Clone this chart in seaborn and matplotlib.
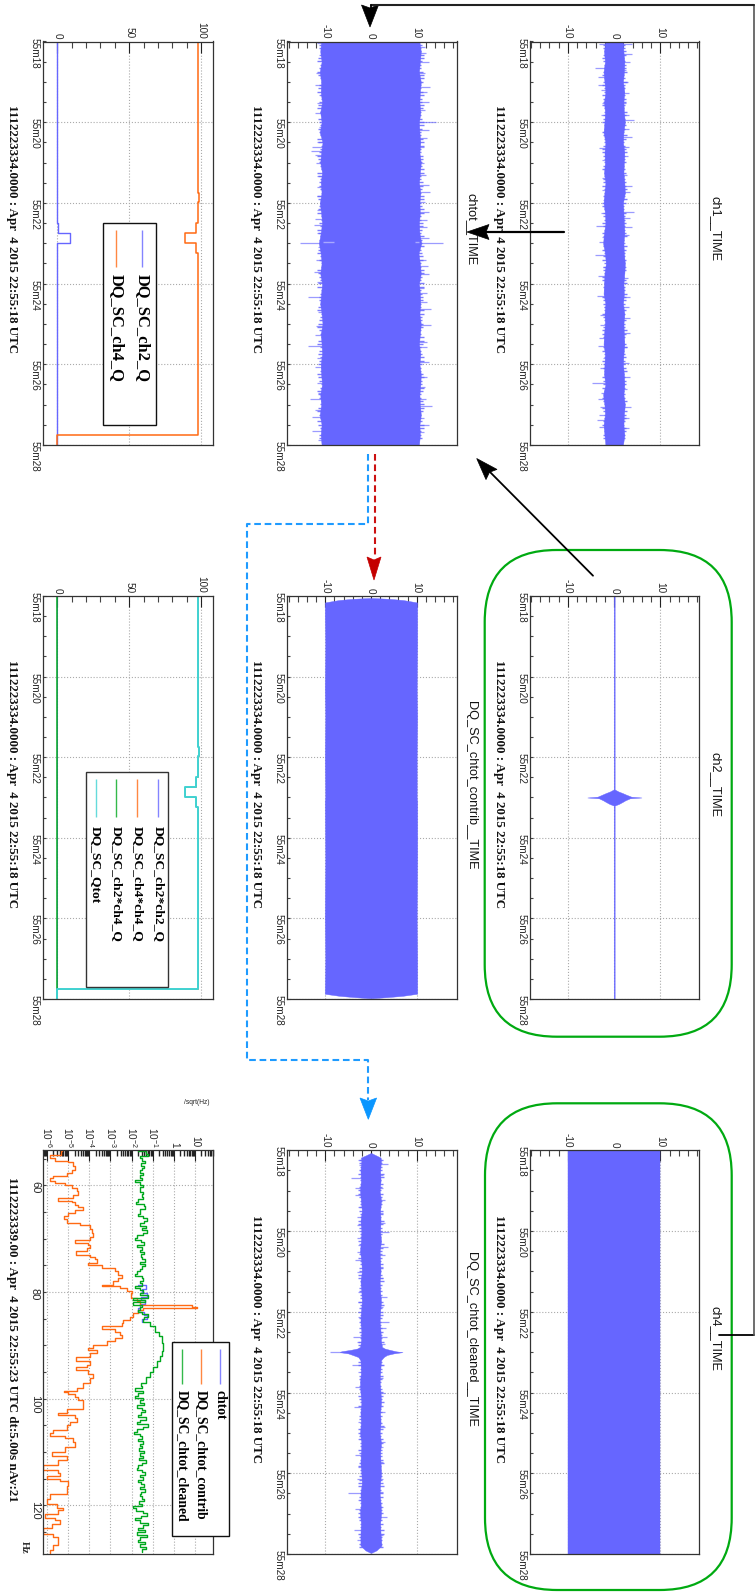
import numpy as np
import pandas as pd
import matplotlib
matplotlib.use("Agg")
import matplotlib.pyplot as plt
from matplotlib.patches import FancyBboxPatch, Rectangle, Polygon
from matplotlib.ticker import MultipleLocator, LogLocator, NullFormatter
import seaborn as sns

# ---------- data ----------
time_ticks = [18, 20, 22, 24, 26, 28]
time_labels = ["55m18", "55m20", "55m22", "55m24", "55m26", "55m28"]
amp_ticks = [-10, 0, 10]
q_ticks = [0, 50, 100]
core_t = [18 + 0.25 * i for i in range(41)]

ch1_lo = [-1.9,-2.2,-2.0,-2.3,-2.1,-1.9,-2.2,-2.0,-2.1,-2.3,-1.9,-2.1,-2.0,-2.2,-1.9,-2.1,-2.3,-2.0,-1.9,-2.2,-2.4,
          -2.0,-1.8,-2.1,-2.2,-2.3,-1.9,-2.1,-2.0,-2.2,-2.3,-2.0,-2.1,-2.2,-1.9,-2.4,-2.1,-2.0,-2.3,-2.1,-1.9]
ch1_hi = [1.9,2.0,2.2,2.1,1.9,2.2,2.0,2.1,2.3,2.0,1.9,2.2,2.1,2.0,2.2,2.3,1.9,2.0,2.1,2.2,2.0,
          2.1,2.3,2.2,2.0,2.1,1.9,2.2,2.0,2.1,2.2,2.0,1.9,2.1,2.2,2.0,2.3,2.1,2.0,2.2,1.9]
ch1_fringe_lo = [-2.4,-2.2,-2.6,-2.3,-2.5,-2.2,-2.7,-2.3,-2.4,-2.6,-2.2,-2.5,-2.3,-2.7,-2.2,-2.4,-2.6,-2.3,-2.5,-2.2,-2.4,-2.7,-2.3,-2.2,-2.6,-2.4,-2.3,-2.5,-2.7,-2.2,-2.4,-2.3,-2.6,-2.5,-2.2,-2.7,-2.4,-2.3,-2.5,-2.2,-2.6,-2.3,-2.4,-2.7,-2.2,-2.5,-2.3,-2.6,-2.4,-2.2,-2.5,-2.7,-2.3,-2.4,-2.6,-2.2,-2.5,-2.3,-2.4,-2.6]
ch1_fringe_hi = [2.3,2.6,2.2,2.5,2.7,2.3,2.4,2.2,2.6,2.4,2.8,2.3,2.5,2.2,2.6,2.3,2.7,2.4,2.2,2.5,2.3,2.6,2.4,2.7,2.2,2.5,2.3,2.4,2.6,2.2,2.7,2.3,2.5,2.4,2.2,2.6,2.3,2.7,2.5,2.2,2.4,2.6,2.3,2.5,2.2,2.7,2.4,2.3,2.6,2.2,2.5,2.4,2.3,2.7,2.2,2.5,2.3,2.6,2.4,2.2]
ch1_spk_lo_t = [18.06,18.33,18.65,18.89,19.08,19.20,19.53,19.82,20.24,20.65,20.94,21.39,21.68,21.93,22.26,22.57,22.84,22.98,23.28,23.58,23.81,24.31,24.57,24.78,25.03,25.36,25.55,25.85,26.10,26.47,26.72,26.86,27.05,27.26,27.38,27.55,27.75]
ch1_spk_lo_v = [-3.2,-2.5,-4.1,-3.6,-3.4,-2.9,-2.7,-2.9,-2.5,-3.2,-2.7,-2.7,-2.7,-2.5,-2.9,-3.9,-2.7,-3.2,-4.1,-2.5,-3.4,-3.8,-2.3,-3.0,-3.0,-3.2,-3.4,-2.5,-3.0,-4.7,-2.9,-3.4,-3.0,-3.2,-3.8,-3.2,-2.3]
ch1_spk_hi_t = [18.06,18.31,18.50,18.71,19.00,19.28,19.53,19.82,19.94,20.18,20.37,20.62,20.85,21.31,21.57,21.72,22.22,22.38,22.59,22.80,23.00,23.58,23.87,24.32,24.57,24.86,25.23,25.56,25.98,26.31,26.60,27.05,27.34,27.59]
ch1_spk_hi_v = [3.8,3.8,3.5,2.6,2.9,3.1,2.6,3.1,4.2,3.1,3.8,3.3,2.9,2.7,3.8,3.5,4.2,3.5,3.8,3.1,2.4,2.6,2.9,3.5,3.1,3.5,3.5,2.7,3.3,3.5,2.7,3.6,3.3,3.1]

chtot_lo = [-10.9,-11.1,-10.8,-11.2,-10.9,-11.0,-10.7,-11.1,-10.8,-11.2,-10.6,-10.9,-11.1,-10.7,-11.0,-10.8,-11.2,-10.9,-10.7,-11.0,-11.4,
            -11.0,-10.8,-11.1,-10.7,-10.9,-11.1,-10.8,-10.6,-11.0,-10.8,-10.7,-11.0,-10.9,-10.7,-11.1,-10.9,-11.2,-10.8,-11.0,-10.8]
chtot_hi = [10.6,10.9,10.7,10.5,10.9,10.7,10.6,10.8,10.5,10.6,10.8,10.6,10.9,10.7,10.5,10.8,10.6,10.7,10.5,10.6,11.0,
            10.4,10.7,10.9,10.5,10.7,10.8,10.6,10.9,10.7,10.5,10.8,10.6,10.9,10.8,10.6,10.7,10.9,10.6,10.7,10.5]
chtot_fringe_lo = [-11.4,-11.0,-11.6,-11.2,-11.7,-11.1,-11.3,-11.8,-11.0,-11.5,-11.2,-11.6,-11.1,-11.4,-11.8,-11.0,-11.3,-11.6,-11.2,-11.7,-11.1,-11.4,-11.0,-11.5,-11.3,-11.7,-11.0,-11.2,-11.6,-11.4,-11.1,-11.8,-11.3,-11.0,-11.5,-11.2,-11.7,-11.1,-11.4,-11.6,-11.0,-11.3,-11.8,-11.2,-11.5,-11.1,-11.6,-11.3,-11.0,-11.7,-11.4,-11.2,-11.5,-11.0,-11.6,-11.3,-11.8,-11.1,-11.4,-11.2]
chtot_fringe_hi = [11.2,10.9,11.5,11.0,11.4,11.7,10.9,11.3,11.1,11.6,10.9,11.2,11.5,11.0,11.3,11.7,10.9,11.4,11.1,11.6,11.0,11.3,10.9,11.5,11.2,11.7,11.0,11.4,10.9,11.2,11.6,11.1,11.3,10.9,11.5,11.0,11.7,11.2,11.4,10.9,11.6,11.1,11.3,11.0,11.5,10.9,11.2,11.6,11.0,11.4,11.1,11.7,10.9,11.3,11.5,11.0,11.2,11.6,11.0,11.3]
chtot_spk_lo_t = [18.03,18.33,18.79,19.08,19.33,19.53,19.76,20.11,20.48,20.62,20.71,20.81,21.02,21.33,21.60,21.84,22.18,22.41,22.55,22.75,22.99,23.09,23.42,23.71,23.95,24.32,24.70,25.05,25.28,25.55,25.85,26.06,26.47,26.70,26.85,27.13,27.30,27.65,27.88]
chtot_spk_lo_v = [-11.9,-11.3,-12.0,-12.3,-11.3,-11.8,-12.3,-11.3,-11.9,-12.8,-13.1,-12.3,-12.0,-11.8,-11.8,-11.9,-11.8,-12.3,-12.4,-11.9,-15.5,-11.5,-12.1,-12.5,-11.8,-13.7,-11.5,-12.0,-12.3,-13.7,-11.9,-12.3,-11.8,-11.5,-13.4,-12.3,-12.8,-12.8,-11.5]
chtot_spk_hi_t = [18.13,18.28,18.50,18.79,19.12,19.24,19.49,19.70,20.00,20.20,20.40,20.61,21.00,21.31,21.56,21.72,21.97,22.22,22.43,22.59,22.88,23.00,23.42,23.56,23.76,24.12,24.24,24.45,24.64,25.03,25.44,25.56,25.94,26.31,26.56,26.85,27.03,27.34,27.50,27.67]
chtot_spk_hi_v = [11.8,12.0,12.8,11.8,12.9,12.2,12.6,11.8,14.2,12.6,12.2,11.6,11.5,12.0,12.6,12.9,11.8,12.8,12.3,12.2,12.8,15.8,12.0,12.4,12.6,11.5,12.3,12.3,13.1,13.1,12.2,12.2,12.8,12.3,11.8,12.0,13.4,11.6,12.6,11.6]
chtot_glitch_t = [22.97, 22.97]
chtot_glitch_from = [-8.0, 9.6]
chtot_glitch_to = [-10.5, 10.6]

contrib_t = [18.05,18.07,18.10,18.16,18.5,19.2,20.3,21.0,22.0,23.0,23.1,24.5,26.0,27.0,27.87,27.92,27.95,27.98]
contrib_lo = [-0.4,-4.0,-7.0,-10.1,-10.1,-10.0,-10.1,-10.0,-10.1,-10.0,-10.1,-10.0,-10.1,-10.0,-10.1,-7.0,-4.0,-0.4]
contrib_hi = [0.4,4.0,7.0,10.1,10.1,10.1,10.0,10.1,10.0,10.0,10.1,10.1,10.0,10.1,10.1,7.0,4.0,0.4]

ch2_t = [18.0,22.80,22.85,22.89,22.93,22.98,23.00,23.02,23.07,23.11,23.16,23.20,28.0]
ch2_lo = [-0.1,-0.1,-0.9,-1.8,-2.6,-3.6,-5.8,-3.3,-2.4,-1.8,-1.0,-0.1,-0.1]
ch2_hi = [0.1,0.1,0.9,1.8,2.6,3.7,5.9,3.4,2.4,1.8,1.0,0.1,0.1]

ch4_t = [18.0, 28.0]
ch4_lo = [-10.0, -10.0]
ch4_hi = [10.0, 10.0]

cleaned_t = [18.07,18.12,18.18,18.25,18.5,18.75,19.0,19.25,19.5,19.75,20.0,20.25,20.5,20.75,21.0,21.25,21.5,21.75,22.0,22.25,22.5,22.75,
             22.87,22.91,22.94,22.98,23.0,23.03,23.07,23.12,23.2,
             23.5,23.75,24.0,24.25,24.5,24.75,25.0,25.25,25.5,25.75,26.0,26.25,26.5,26.75,27.0,27.25,27.5,27.79,27.91,27.97]
cleaned_lo = [-0.1,-1.0,-2.2,-2.1,-2.3,-2.2,-2.4,-2.2,-2.0,-2.3,-2.1,-2.2,-2.4,-2.1,-2.0,-2.3,-2.1,-2.0,-2.2,-2.3,-2.1,-2.2,
              -2.4,-3.0,-4.3,-6.5,-6.8,-5.0,-4.0,-2.8,-2.3,
              -2.2,-2.4,-2.3,-2.1,-2.3,-2.2,-2.4,-2.1,-2.2,-2.3,-2.1,-2.0,-2.3,-2.2,-2.4,-2.2,-2.3,-2.3,-1.2,-0.1]
cleaned_hi = [0.1,1.0,2.1,2.2,2.0,2.1,1.9,2.2,2.0,2.1,2.0,2.2,1.9,2.0,2.1,1.9,2.0,2.2,2.0,1.9,2.1,2.2,
              2.4,3.0,4.0,5.5,6.9,5.0,3.5,2.8,2.2,
              2.0,1.9,2.1,2.2,2.0,2.1,1.9,2.2,2.0,2.1,2.2,2.0,1.9,2.1,2.2,2.0,2.1,2.3,1.2,0.1]
cleaned_fringe_lo = [-2.4,-2.7,-2.5,-2.9,-2.4,-2.6,-2.8,-2.5,-2.7,-2.4,-2.9,-2.6,-2.5,-2.8,-2.4,-2.7,-2.5,-2.6,-2.9,-2.4,-2.7,-2.5,-2.8,-2.6,-2.4,-2.7,-2.6,-2.5,-2.8,-2.4,-2.6,-2.9,-2.5,-2.7,-2.4,-2.6,-2.8,-2.5,-2.4,-2.7,-2.5,-2.9,-2.6,-2.4,-2.8,-2.5,-2.7,-2.4,-2.6,-2.9,-2.5,-2.7,-2.4,-2.6,-2.8,-2.5,-2.4,-2.7,-2.6,-2.5]
cleaned_fringe_hi = [2.3,2.6,2.4,2.8,2.3,2.5,2.7,2.4,2.3,2.6,2.8,2.4,2.5,2.3,2.7,2.5,2.3,2.6,2.4,2.8,2.3,2.5,2.6,2.4,2.7,2.3,2.5,2.4,2.8,2.3,2.6,2.4,2.5,2.7,2.3,2.4,2.6,2.8,2.3,2.5,2.4,2.7,2.3,2.6,2.4,2.5,2.8,2.3,2.4,2.6,2.3,2.7,2.5,2.4,2.3,2.6,2.8,2.4,2.5,2.3]
cleaned_spk_lo_t = [18.24,18.36,18.69,18.93,19.11,19.40,19.64,19.85,20.18,20.35,20.51,20.72,21.01,21.50,21.75,22.12,22.62,22.74,23.00,23.31,23.49,23.86,24.36,24.73,25.14,25.55,25.84,26.13,26.49,26.67,26.88,27.41,27.66]
cleaned_spk_lo_v = [-2.8,-2.6,-4.4,-3.5,-3.5,-2.8,-3.1,-3.0,-3.1,-2.8,-3.1,-3.5,-3.0,-2.8,-2.8,-2.8,-3.9,-3.1,-9.0,-4.1,-2.8,-3.5,-3.7,-2.8,-2.8,-3.6,-2.8,-3.0,-5.0,-2.8,-3.5,-3.7,-3.0]
cleaned_spk_hi_t = [18.35,18.61,18.94,19.23,19.56,19.81,20.03,20.39,20.60,20.88,21.17,21.64,21.88,22.25,22.41,22.62,22.79,23.32,23.65,24.02,24.48,24.85,25.22,25.35,25.72,26.13,26.46,26.83,27.08,27.54]
cleaned_spk_hi_v = [3.8,2.7,2.7,3.1,2.7,3.1,4.0,3.8,3.1,2.7,2.6,3.6,2.7,4.0,3.3,3.6,3.1,2.6,2.6,3.1,3.1,3.1,3.1,2.7,2.6,2.7,2.7,2.6,3.4,2.7]

q_t = [18.0,21.75,21.75,21.98,21.98,22.5,22.5,22.74,22.74,22.99,22.99,23.24,23.24,27.75,27.75,28.0]
ch2_q = [0,0,0,0,0,0,0.7,0.7,8.5,8.5,0,0,0,0,0,0]
ch4_q = [98.2,98.2,98.9,98.9,98.2,98.2,96.4,96.4,89.0,89.0,96.6,96.6,98.2,98.2,0,0]
ch2ch2_q = [0]*16
ch4ch4_q = [98.2,98.2,98.9,98.9,98.2,98.2,96.4,96.4,89.0,89.0,96.6,96.6,98.2,98.2,0,0]
ch2ch4_q = [0]*16
qtot_q = [98.2,98.2,98.9,98.9,98.2,98.2,96.4,96.4,89.0,89.0,96.6,96.6,98.2,98.2,0,0]

contrib_f = [53.6,54.25,54.9,55.4,55.6,56.4,57.1,57.7,58.3,58.6,59.1,59.6,60,60.5,61.1,61.75,62.4,62.9,63.2,63.6,64.1,64.6,65.2,65.8,66.4,67.1,67.5,68.1,68.9,69.6,70.2,70.8,71.25,71.75,72.4,73,73.4,73.9,74.6,75,75.5,76.1,76.75,77.4,78,78.6,78.9,79.25,79.75,80.2,81.1,81.75,82.4,82.75,83,83.3,83.9,84.6,85.2,85.8,86.4,86.9,87.4,88,88.6,89.25,89.9,90.5,
             90.9,91.5,92.1,92.9,93.7,94.1,94.6,95.3,96.2,97.1,97.9,98.5,98.8,99.2,99.6,100.3,101.2,102,102.6,103.1,103.7,104.3,104.9,105.9,106.4,106.9,107.4,108.1,109,109.9,110.8,111.5,112.5,113.3,113.9,114.4,115,115.5,116.3,116.9,117.8,118.7,119.7,120.4,120.9,121.6,122.3,122.8,123.4,124.3,125.3,125.9,127.4,128.4,129]
contrib_log = [-5.31,-5.35,-5.86,-5.62,-4.99,-4.75,-4.68,-4.83,-5.07,-5.70,-5.86,-5.62,-5.15,-4.80,-4.60,-4.52,-4.75,-5.46,-4.83,-4.68,-4.52,-4.28,-4.68,-4.99,-5.20,-5.07,-4.44,-3.97,-3.89,-3.81,-3.97,-4.68,-4.04,-3.97,-4.12,-4.63,-3.97,-3.73,-3.65,-4.04,-3.41,-2.78,-2.62,-2.47,-2.62,-2.86,-3.41,-2.55,-2.23,-1.99,-2.04,-1.76,-1.60,0.85,1.08,-1.44,-1.68,-1.91,-2.07,-2.39,-2.47,-3.41,-2.78,-2.55,-2.47,-2.78,-3.18,-3.81,
               -4.04,-3.62,-3.97,-4.63,-3.97,-4.12,-4.63,-4.04,-3.81,-3.97,-4.28,-4.60,-5.20,-4.99,-4.68,-4.52,-4.28,-4.31,-5.07,-5.46,-4.68,-4.60,-4.91,-5.04,-5.70,-5.86,-5.15,-4.75,-4.68,-5.15,-5.78,-5.07,-5.46,-6.17,-5.46,-5.38,-6.0,-5.38,-4.99,-5.07,-5.07,-5.86,-6.0,-5.54,-5.26,-5.46,-6.1,-5.62,-5.38,-5.78,-6.17,-5.70,-5.46,-5.70,-5.85]

cleaned_left_log = [-1.68,-1.3,-1.21,-1.6,-1.5,-1.36,-1.55,-1.42,-1.52,-1.62,-1.45,-1.58,-1.5,-1.84,-1.6,-1.44,-1.58,-1.62,-1.44,-1.52,-1.44,-1.7,-1.79,-1.42,-1.36,-1.58,-1.62,-1.7,-1.45,-1.28,-1.42,-1.62,-1.3,-1.5,-1.28,-1.44,-1.72,-1.84,-1.55,-1.42,-1.76,-1.5,-1.62,-1.42,-1.56,-1.5,-1.38,-1.58,-1.36,-1.5,-1.6,-1.76,-1.84,-1.5,-1.44,-1.58,-1.52,-1.84,-1.62,-1.44,-1.6,-1.21,-1.91,-1.36,-1.95,-1.52,-1.58,-1.68,-1.52,-1.21,-1.4]
bulge_f = [85.6,86.4,87.4,88.3,89.6,91.1,92,93,94,95,96,97]
bulge_log = [-1.44,-1.13,-0.89,-0.68,-0.57,-0.53,-0.55,-0.65,-0.78,-0.97,-1.13,-1.32]
cleaned_right_log = [-1.55,-1.52,-1.84,-1.44,-1.7,-1.84,-1.46,-1.6,-1.42,-1.75,-1.52,-1.36,-1.55,-1.68,-1.3,-1.6,-1.74,-1.21,-1.48,-1.75,-1.89,-1.6,-1.52,-1.7,-1.45,-1.6,-1.5,-1.64,-1.42,-1.58,-1.44,-1.64,-1.3,-1.52,-1.68,-1.74,-1.5,-1.36,-1.58,-1.44,-1.7,-1.55,-1.42,-1.6,-1.36,-1.55,-1.62,-1.5,-1.42,-1.66,-1.52,-1.95,-1.78,-1.45,-1.28,-1.55,-1.84,-1.6,-1.21,-1.48,-1.68,-1.35,-1.74,-1.28,-1.6,-1.7,-1.38,-1.6,-1.3,-1.52]
cleaned_f = [53.6 + 0.45 * i for i in range(len(cleaned_left_log))] + bulge_f + [97.6 + 0.45 * i for i in range(len(cleaned_right_log))]
cleaned_log = cleaned_left_log + bulge_log + cleaned_right_log
chtot_f = [78.6,79.4,80.2,80.9,81.5,82.2,83.0,83.8,84.4,85.1,85.6]
chtot_log = [-1.7,-1.3,-1.5,-1.25,-1.55,-1.35,-1.6,-1.7,-1.4,-1.25,-1.5]

freq_ticks = [60, 80, 100, 120]
log_ticks = [1e-6, 1e-5, 1e-4, 1e-3, 1e-2, 1e-1, 1, 10]
log_labels = ["$10^{-6}$", "$10^{-5}$", "$10^{-4}$", "$10^{-3}$", "$10^{-2}$", "$10^{-1}$", "1", "10"]

stamp_a = "1112223334.0000 : Apr  4 2015 22:55:18 UTC"
stamp_b = "1112223339.00 : Apr  4 2015 22:55:23 UTC dt:5.00s nAv:21"

# ---------- style ----------
BLUE, ORANGE, GREEN, CYAN = "#6666ff", "#ff6a13", "#00a81e", "#3fd2d2"
W, H = 755, 1592
sns.set_theme(style="white")
plt.rcParams["font.family"] = ["Liberation Sans", "DejaVu Sans"]
plt.rcParams["mathtext.default"] = "regular"
plt.rcParams["axes.edgecolor"] = "#333333"
plt.rcParams["axes.linewidth"] = 0.9

fig = plt.figure(figsize=(W / 100, H / 100), dpi=100, facecolor="white")
COLS = [(43.4, 213.3), (287.3, 456.7), (530.0, 699.3)]
ROWS = [(41.5, 445.0), (596.0, 999.0), (1150.3, 1554.0)]
fringe_t = [18.08 + i / 6 for i in range(60)]


def make_ax(c, r):
    x0, x1 = COLS[c]
    y0, y1 = ROWS[r]
    ax = fig.add_axes([x0 / W, 1 - y1 / H, (x1 - x0) / W, (y1 - y0) / H])
    ax.set_facecolor("none")
    return ax


def finish(ax, xmajor, xlabels, ymajor, ylabels, ylim):
    ax.set_ylim(*ylim)
    ax.set_xticks(xmajor, xlabels)
    ax.set_yticks(ymajor, ylabels)
    ax.tick_params(axis="x", which="major", top=True, bottom=False, labeltop=True, labelbottom=False,
                   direction="in", length=8, width=0.8, color="#222222", labelrotation=-90, labelsize=7.2, pad=2)
    ax.tick_params(axis="x", which="minor", top=True, bottom=False, direction="in", length=4, width=0.8, color="#444444")
    ax.tick_params(axis="y", which="both", left=True, right=False, direction="in", length=2.5, width=0.8,
                   color="#444444", labelrotation=-90, labelsize=7.2, pad=2.5)
    ax.grid(True, which="major", color="#aaaaaa", linestyle=":", linewidth=0.8)
    ax.set_axisbelow(True)
    ax.set_xlabel("")
    ax.set_ylabel("")


def time_panel(c, r, t, lo, hi, xlim, spikes=None, fringe=None):
    ax = make_ax(c, r)
    ax.set_xlim(*xlim)
    ax.fill_betweenx(t, lo, hi, color=BLUE, lw=0.3)
    if fringe:
        for vals in fringe:
            ax.hlines(fringe_t[:59], 0, vals[:59], color=BLUE, lw=1.0, alpha=0.85)
            ax.hlines([v + 0.08 for v in fringe_t[:59]], 0, vals[58::-1], color=BLUE, lw=1.0, alpha=0.85)
    if spikes:
        for st, sv in spikes:
            ax.hlines(st, 0, sv, color=BLUE, lw=0.9, alpha=0.65)
    ax.xaxis.set_minor_locator(MultipleLocator(2))
    ax.yaxis.set_minor_locator(MultipleLocator(0.5))
    finish(ax, amp_ticks, [str(v) for v in amp_ticks], time_ticks, time_labels, (28, 18))
    return ax


def q_panel(c, r, series):
    ax = make_ax(c, r)
    ax.set_xlim(-9.7, 108.6)
    for vals, col, lw in series:
        df = pd.DataFrame({"q": vals, "t": q_t})
        sns.lineplot(data=df, x="q", y="t", orient="y", sort=False, estimator=None, color=col, lw=lw, ax=ax, legend=False)
    ax.xaxis.set_minor_locator(MultipleLocator(10))
    ax.yaxis.set_minor_locator(MultipleLocator(0.5))
    finish(ax, q_ticks, [str(v) for v in q_ticks], time_ticks, time_labels, (28, 18))
    return ax


AMP1 = (-18.2, 18.4)
AMP2 = (-18.3, 18.75)
time_panel(2, 0, core_t, ch1_lo, ch1_hi, AMP1,
           [(ch1_spk_lo_t, ch1_spk_lo_v), (ch1_spk_hi_t, ch1_spk_hi_v)], [ch1_fringe_lo, ch1_fringe_hi])
ax_chtot = time_panel(1, 0, core_t, chtot_lo, chtot_hi, AMP2,
                      [(chtot_spk_lo_t, chtot_spk_lo_v), (chtot_spk_hi_t, chtot_spk_hi_v)],
                      [chtot_fringe_lo, chtot_fringe_hi])
ax_chtot.hlines(chtot_glitch_t, chtot_glitch_from, chtot_glitch_to, color="#a8a8ff", lw=1.0, zorder=4)
time_panel(2, 1, ch2_t, ch2_lo, ch2_hi, AMP1)
time_panel(1, 1, contrib_t, contrib_lo, contrib_hi, AMP2)
time_panel(2, 2, ch4_t, ch4_lo, ch4_hi, AMP1)
ax_cleaned = time_panel(1, 2, cleaned_t, cleaned_lo, cleaned_hi, AMP2,
                        [(cleaned_spk_lo_t, cleaned_spk_lo_v), (cleaned_spk_hi_t, cleaned_spk_hi_v)])
ax_cleaned.hlines(fringe_t[1:-1], 0, cleaned_fringe_lo[1:-1], color=BLUE, lw=1.0, alpha=0.85)
ax_cleaned.hlines(fringe_t[1:-1], 0, cleaned_fringe_hi[1:-1], color=BLUE, lw=1.0, alpha=0.85)
ax_cleaned.hlines([v + 0.08 for v in fringe_t[1:-1]], 0, cleaned_fringe_hi[-2:0:-1], color=BLUE, lw=1.0, alpha=0.85)
ax_cleaned.hlines([v + 0.08 for v in fringe_t[1:-1]], 0, cleaned_fringe_lo[-2:0:-1], color=BLUE, lw=1.0, alpha=0.85)

q_panel(0, 0, [(ch2_q, BLUE, 1.0), (ch4_q, ORANGE, 1.1)])
q_panel(0, 1, [(ch2ch2_q, BLUE, 0.6), (ch4ch4_q, ORANGE, 0.5), (ch2ch4_q, GREEN, 1.1), (qtot_q, CYAN, 1.4)])

# spectrum
ax = make_ax(0, 2)
ax.set_xscale("log")
ax.set_xlim(10 ** -6.17, 10 ** 1.866)
for f, lg, col in [(chtot_f, chtot_log, BLUE), (contrib_f, contrib_log, ORANGE), (cleaned_f, cleaned_log, GREEN)]:
    n = min(len(f), len(lg))
    df = pd.DataFrame({"f": f[:n], "a": 10.0 ** np.array(lg[:n])})
    sns.lineplot(data=df, x="a", y="f", orient="y", sort=False, estimator=None, color=col, lw=1.0, ax=ax, legend=False,
                 drawstyle="steps-post")
ax.xaxis.set_minor_locator(LogLocator(base=10, subs=[2, 3, 4, 5, 6, 7, 8, 9], numticks=40))
ax.xaxis.set_minor_formatter(NullFormatter())
ax.yaxis.set_minor_locator(MultipleLocator(5))
finish(ax, log_ticks, log_labels, freq_ticks, [str(v) for v in freq_ticks], (129.1, 53.44))
ax.tick_params(axis="y", which="major", labelsize=8)
ax.tick_params(axis="x", which="minor", length=4.5, width=1.0, color="#222222")

# ---------- overlay: texts, legends, arrows, rounded boxes (pixel coordinates) ----------
ov = fig.add_axes([0, 0, 1, 1], zorder=20)
ov.set_xlim(0, W)
ov.set_ylim(H, 0)
ov.axis("off")
ov.patch.set_alpha(0)

SERIF = ["Liberation Serif", "DejaVu Serif"]
for x, y, s in [(12, 229, stamp_a), (12, 784, stamp_a), (12, 1339, stamp_b),
                (256, 229, stamp_a), (256, 784, stamp_a), (256, 1339, stamp_a),
                (499, 229, stamp_a), (499, 784, stamp_a), (499, 1339, stamp_a)]:
    ov.text(x, y, s, rotation=-90, ha="center", va="center", fontsize=9.4, family=SERIF, weight="bold", color="#111111")
for x, y, s in [(715, 229, "ch1__TIME"), (471, 229, "chtot__TIME"), (715, 785, "ch2__TIME"),
                (471, 785, "DQ_SC_chtot_contrib__TIME"), (715, 1339, "ch4__TIME"),
                (471, 1339, "DQ_SC_chtot_cleaned__TIME")]:
    ov.text(x, y, s, rotation=-90, ha="center", va="center", fontsize=9.2, color="#111111")
ov.text(196.5, 1102, "/sqrt(Hz)", ha="center", va="center", fontsize=4.8, color="#222222")
ov.text(24, 1547, "Hz", rotation=-90, ha="center", va="center", fontsize=7.5, family=SERIF, weight="bold", color="#333333")


def legend(x0, x1, y0, y1, entries, ly0, ly1, ty, fs, weight, ec="#111111"):
    ov.add_patch(Rectangle((x0, y0), x1 - x0, y1 - y0, fc="white", ec=ec, lw=1.0))
    for x, col, label in entries:
        ov.plot([x, x], [ly0, ly1], color=col, lw=1.0, alpha=0.8, solid_capstyle="butt")
        ov.text(x, ty, label, rotation=-90, ha="center", va="top", fontsize=fs, family=SERIF, weight=weight, color="black")


legend(103, 156, 223, 425, [(142.3, BLUE, "DQ_SC_ch2_Q"), (116.3, ORANGE, "DQ_SC_ch4_Q")], 230, 267, 274, 11.9, "bold")
legend(85.7, 167.7, 771.7, 987.3,
       [(158.3, BLUE, "DQ_SC_ch2*ch2_Q"), (137.3, ORANGE, "DQ_SC_ch4*ch4_Q"),
        (116.3, GREEN, "DQ_SC_ch2*ch4_Q"), (95.7, CYAN, "DQ_SC_Qtot")], 779, 817, 826, 9.7, "bold", ec="#333333")
legend(172.3, 228.7, 1342.3, 1536,
       [(220, BLUE, "chtot"), (201, ORANGE, "DQ_SC_chtot_contrib"), (182, GREEN, "DQ_SC_chtot_cleaned")],
       1349, 1384, 1390, 9.8, "bold")

for x0, x1, y0, y1 in [(484.7, 731.7, 550, 1036.7), (485, 731.7, 1103.3, 1590)]:
    ov.add_patch(FancyBboxPatch((x0, y0), x1 - x0, y1 - y0, boxstyle="round,pad=0,rounding_size=72",
                                fc="none", ec="#00aa11", lw=1.6, mutation_aspect=1))


def head(tip, base, half, col):
    tip = np.array(tip, float)
    base = np.array(base, float)
    d = (tip - base) / np.linalg.norm(tip - base)
    n = np.array([-d[1], d[0]])
    ov.add_patch(Polygon([tip, base + n * half, base + d * 3, base - n * half], closed=True, fc=col, ec=col, lw=0.5))


ov.plot([719, 754], [1335, 1335], color="black", lw=1.3)
ov.plot([754, 754], [1335, 4.7], color="#555555", lw=1.2)
ov.plot([754, 371], [4.7, 4.7], color="#222222", lw=1.5)
ov.plot([371, 371], [4.7, 10], color="black", lw=1.3)
head((370, 27), (370, 5), 8.5, "black")
ov.plot([564, 485], [232, 232], color="black", lw=1.6)
head((467, 232), (489, 232), 7.5, "black")
ov.plot([593, 488], [575.7, 470], color="black", lw=1.3)
head((476.7, 458.5), (491.5, 474.5), 7.5, "black")
ov.plot([374.6, 374.6], [454, 558], color="#cc1111", lw=1.5, linestyle=(0, (3.2, 1.8)))
head((374, 580), (374, 557), 7, "#c40000")
ov.plot([368, 368, 247, 247, 367.5, 367.5], [454, 524, 524, 1060, 1060, 1100],
        color="#1e9bff", lw=1.5, linestyle=(0, (3.2, 1.8)))
head((368.3, 1119.3), (368.3, 1098), 8.3, "#0a96ff")

fig.savefig("out.png", dpi=100, facecolor="white")
